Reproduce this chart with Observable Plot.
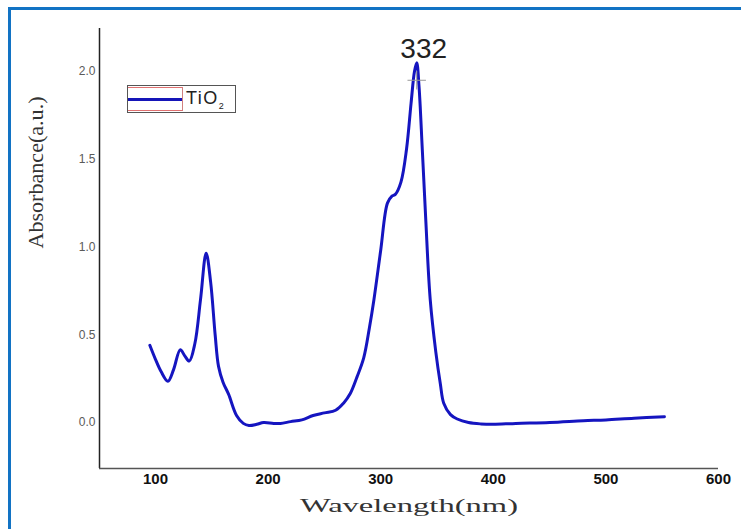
<!DOCTYPE html>
<html>
<head>
<meta charset="utf-8">
<script src="https://cdn.jsdelivr.net/npm/d3@7"></script>
<script src="https://cdn.jsdelivr.net/npm/@observablehq/plot@0.6"></script>
<style>
  html, body { margin: 0; padding: 0; background: #fff; }
  #wrap { position: relative; width: 741px; height: 529px; overflow: hidden; }
  #border { position: absolute; left: 8px; top: 7px; width: 800px; height: 600px;
            border-left: 3px solid #1273c4; border-top: 3px solid #1273c4; box-sizing: border-box; }
  #legend { position: absolute; left: 127px; top: 85px; width: 109px; height: 28px;
            border: 1px solid #555; box-sizing: border-box; background: #fff;
            font-family: Arial, "Liberation Sans", sans-serif; }
  #swatch { position: absolute; left: 0; top: 1px; width: 55px; height: 24px;
            border-top: 1px solid #e07070; border-bottom: 1px solid #e07070;
            border-right: 1px solid #d08080; box-sizing: border-box; }
  #swatch div { position: absolute; left: 0; right: 0; top: 10px; height: 2.5px; background: #1515b8; }
  #legtext { position: absolute; left: 58px; top: 2px; font-size: 18px; color: #222; letter-spacing: 1.5px; }
  #legtext sub { font-size: 9px; }
  svg { position: absolute; left: 0; top: 0; }
</style>
</head>
<body>
<div id="wrap">
  <div id="chart"></div>
  <div id="border"></div>
  <div id="legend"><div id="swatch"><div></div></div><div id="legtext">TiO<sub>2</sub></div></div>
</div>
<script>
// Data
const wavelength = [95, 100, 105, 111, 116, 122, 126, 130, 135, 140, 145, 149, 153, 156, 160, 165, 172, 178, 183, 190, 196, 205, 211, 220, 230, 240, 250, 260, 267, 273, 279, 285, 290, 294, 300, 306, 310, 313, 318, 323, 327, 330, 332, 334, 337, 340, 344, 349, 353, 356, 362, 368, 378, 389, 400, 420, 450, 480, 500, 525, 552];
const absorbance = [0.44, 0.36, 0.29, 0.235, 0.30, 0.415, 0.38, 0.35, 0.45, 0.70, 0.965, 0.80, 0.50, 0.32, 0.23, 0.16, 0.04, -0.005, -0.017, -0.01, 0.0, -0.005, -0.005, 0.005, 0.015, 0.04, 0.055, 0.07, 0.11, 0.165, 0.26, 0.37, 0.54, 0.70, 0.98, 1.25, 1.29, 1.30, 1.37, 1.56, 1.82, 2.00, 2.05, 1.92, 1.55, 1.16, 0.70, 0.40, 0.22, 0.11, 0.045, 0.02, 0.0, -0.008, -0.01, -0.005, 0.0, 0.01, 0.015, 0.025, 0.033];
const xTicks = [100, 200, 300, 400, 500, 600];
const yTicks = [0.0, 0.5, 1.0, 1.5, 2.0];
const peakLabel = ["332"];
const peakX = [332];
const peakY = [2.05];
const markerY = [1.95];
const xLabel = "Wavelength(nm)";
const yLabel = "Absorbance(a.u.)";
const xDomain = [50.3, 600];
const yDomain = [-0.262, 2.245];

const data = wavelength.map((w, i) => ({w, a: absorbance[i]}));

const chart = Plot.plot({
  width: 741,
  height: 529,
  marginLeft: 99,
  marginRight: 23,
  marginTop: 28,
  marginBottom: 61,
  style: {background: "transparent", overflow: "visible"},
  x: {domain: xDomain},
  y: {domain: yDomain},
  marks: [
    Plot.axisX({ticks: xTicks, tickSize: 0, tickPadding: 5, tickFormat: d3.format("d"),
      fontSize: 15, fontWeight: "bold", fill: "#111", fontFamily: "Arial, 'Liberation Sans', sans-serif", label: null}),
    Plot.axisY({ticks: yTicks, tickSize: 0, tickPadding: 4, tickFormat: d3.format(".1f"),
      fontSize: 12, fill: "#5a5a5a", fontFamily: "Arial, 'Liberation Sans', sans-serif", label: null}),
    Plot.ruleX([xDomain[0]], {stroke: "#222", strokeWidth: 1.5}),
    Plot.ruleY([yDomain[0]], {stroke: "#555", strokeWidth: 1.5}),
    Plot.line(data, {x: "w", y: "a", stroke: "#1515c0", strokeWidth: 3, curve: "catmull-rom"}),
    Plot.dot(peakX, {x: d => d, y: () => markerY[0], symbol: "plus", r: 6, stroke: "#999", strokeWidth: 1}),
    Plot.text(peakLabel, {x: () => peakX[0], y: () => peakY[0], text: d => d, dx: 7, dy: -14,
      fontSize: 28, fill: "#222", fontFamily: "Arial, 'Liberation Sans', sans-serif"}),
    Plot.text([xLabel], {frameAnchor: "bottom", text: d => d, dy: 43, fontSize: 19, fill: "#333",
      fontFamily: "'Liberation Serif', 'DejaVu Serif', serif", className: "xlab"}),
    Plot.text([yLabel], {frameAnchor: "left", text: d => d, dx: -63, rotate: -90, fontSize: 20, fill: "#333",
      fontFamily: "'Liberation Serif', 'DejaVu Serif', serif", className: "ylab"})
  ]
});
document.getElementById("chart").appendChild(chart);
d3.select(chart).select(".xlab text").attr("textLength", 218).attr("lengthAdjust", "spacingAndGlyphs");
d3.select(chart).select(".ylab text").attr("textLength", 152).attr("lengthAdjust", "spacingAndGlyphs");
</script>
</body>
</html>
